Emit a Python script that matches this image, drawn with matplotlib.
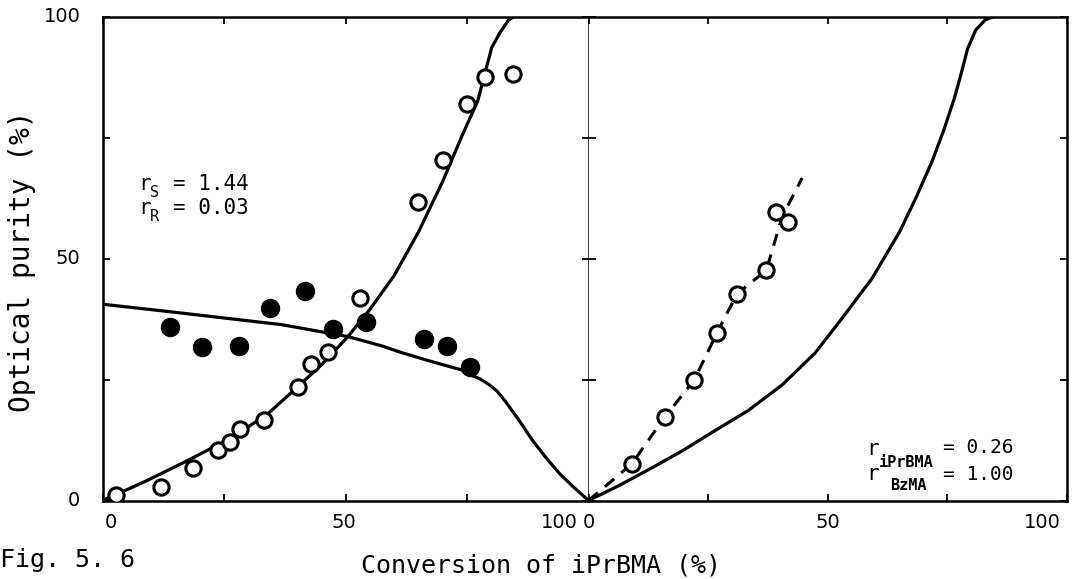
import numpy as np
import matplotlib
matplotlib.use('Agg')
import matplotlib.pyplot as plt

# ---- left panel: optical purity vs conversion ----
open_x = [2.7, 12.1, 18.6, 23.7, 26.2, 28.2, 33.3, 40.2, 42.8, 46.3, 52.9, 65.0, 70.0, 74.9, 78.8, 84.4]
open_y = [1.1, 2.7, 6.7, 10.5, 12.0, 14.7, 16.7, 23.4, 28.2, 30.7, 41.8, 61.7, 70.5, 82.1, 87.6, 88.3]

filled_x = [13.9, 20.5, 28.1, 34.4, 41.6, 47.4, 54.2, 66.2, 70.9, 75.7]
filled_y = [35.8, 31.8, 31.9, 39.9, 43.3, 35.5, 36.9, 33.3, 32.0, 27.7]

rise_x = [0, 4.5, 9.1, 16.6, 24.7, 29.5, 34.2, 39.6, 45.0, 50.5, 55.0, 60.0, 65.0, 70.0,
          74.0, 77.2, 78.8, 80.1, 81.8, 83.5, 84.5]
rise_y = [0, 2.0, 4.1, 7.8, 12.0, 14.9, 18.1, 23.0, 28.0, 33.9, 39.5, 46.5, 55.5, 66.0,
          75.5, 82.6, 88.8, 93.7, 96.8, 99.3, 100]

fall_x = [0, 13.4, 23.7, 34.0, 36.7, 50.5, 57.4, 61.5, 67.5, 73.9, 75.6, 77.6, 79.5, 81.2,
          82.9, 85.7, 88.5, 91.3, 94.1, 97.0, 100]
fall_y = [40.6, 39.1, 37.9, 36.7, 36.4, 33.9, 32.0, 30.6, 28.8, 27.0, 26.0, 25.2, 24.0, 22.6,
          20.5, 16.6, 12.4, 8.8, 5.5, 2.7, 0]

# ---- right panel ----
r_open_x = [9.0, 16.0, 22.1, 26.9, 31.1, 37.2, 39.3, 41.7]
r_open_y = [7.5, 17.3, 24.9, 34.7, 42.8, 47.6, 59.7, 57.7]

dash_x = [0, 9.0, 16.0, 22.1, 26.9, 31.1, 37.2, 40.5, 44.7]
dash_y = [0, 7.5, 17.3, 24.9, 34.7, 42.8, 47.6, 58.7, 66.7]

r_curve_x = [0, 6.4, 12.8, 19.5, 26.2, 33.4, 40.5, 47.4, 52.9, 59.3, 65.1, 68.5, 71.9,
             74.4, 76.6, 78.1, 79.3, 81.0, 83.0, 84.5]
r_curve_y = [0, 3.1, 6.5, 10.2, 14.3, 18.6, 23.9, 30.5, 37.5, 45.9, 55.6, 62.6, 70.2,
             76.8, 83.4, 88.8, 93.4, 97.3, 99.4, 100]

xticks = [0, 25, 50, 75, 100]
yticks = [0, 25, 50, 75, 100]

W, H = 1072, 579
fig = plt.figure(figsize=(W / 100, H / 100), dpi=100)

bottom = 1 - 500.5 / H
height = 483.5 / H
ax1 = fig.add_axes([102.5 / W, bottom, 486 / W, height])
ax2 = fig.add_axes([588.5 / W, bottom, 478 / W, height])

mono = 'DejaVu Sans Mono'
lw = 2.3

# left panel curves and points
ax1.plot(rise_x, rise_y, color='black', lw=lw, solid_joinstyle='round', zorder=2)
ax1.plot(fall_x, fall_y, color='black', lw=lw, solid_joinstyle='round', zorder=2)
ax1.plot(open_x, open_y, 'o', ms=11, mfc='white', mec='black', mew=2.2, zorder=3)
ax1.plot(filled_x, filled_y, 'o', ms=13, mfc='black', mec='black', zorder=3)

# right panel
ax2.plot(r_curve_x, r_curve_y, color='black', lw=lw, solid_joinstyle='round', zorder=2)
dl, = ax2.plot(dash_x, dash_y, color='black', lw=2.2, zorder=2)
dl.set_dashes((4, 3))
ax2.plot(r_open_x, r_open_y, 'o', ms=11, mfc='white', mec='black', mew=2.2, zorder=3)

for ax in (ax1, ax2):
    ax.set_xlim(0, 100)
    ax.set_ylim(0, 100)
    ax.set_xticks(xticks)
    ax.set_yticks(yticks)
    ax.set_xticklabels([])
    ax.set_yticklabels([])
    ax.tick_params(direction='in', length=5, width=1.3, top=True, bottom=True,
                   left=True, right=True)
    for s in ax.spines.values():
        s.set_linewidth(1.8)

ax2.spines['left'].set_visible(False)

# y tick labels on the left panel only
for v, t in zip([0, 50, 100], ['0', '50', '100']):
    ax1.annotate(t, xy=(0, v), xycoords='data', xytext=(-16, 0),
                 textcoords='offset points', ha='right', va='center', fontsize=14)

# x tick labels, nudged like the hand-lettered originals
x_labels_left = [(0, '0', 'center', 6), (50, '50', 'center', -1), (100, '100', 'right', -8)]
x_labels_right = [(0, '0', 'center', 0), (50, '50', 'center', 0), (100, '100', 'right', -4)]
for ax, labs in ((ax1, x_labels_left), (ax2, x_labels_right)):
    for v, t, ha, dx in labs:
        ax.annotate(t, xy=(v, 0), xycoords=('data', 'axes fraction'), xytext=(dx, -9),
                    textcoords='offset points', ha=ha, va='top', fontsize=14)

# axis titles
fig.text(22 / W, 1 - 261 / H, 'Optical purity (%)', rotation=90, ha='center', va='center',
         family=mono, fontsize=20)
fig.text(541 / W, 1 - 565 / H, 'Conversion of iPrBMA (%)', ha='center', va='center',
         family=mono, fontsize=18)
fig.text(0, 1 - 560 / H, 'Fig. 5. 6', ha='left', va='center', family=mono, fontsize=18)

# reactivity ratios
def ftext(px, py, s, size, **kw):
    fig.text(px / W, 1 - py / H, s, ha='left', va='baseline', family=mono, fontsize=size, **kw)

ftext(138, 190, 'r', 15)
ftext(150, 197, 'S', 11)
ftext(173, 190, '= 1.44', 15)
ftext(138, 214, 'r', 15)
ftext(150, 221, 'R', 11)
ftext(173, 214, '= 0.03', 15)

ftext(866, 455, 'r', 15)
ftext(879, 467, 'iPrBMA', 11, weight='bold')
ftext(943, 453, '= 0.26', 14)
ftext(866, 480, 'r', 15)
ftext(890, 490, 'BzMA', 11, weight='bold')
ftext(943, 480, '= 1.00', 14)

fig.savefig('out.png', dpi=100)
